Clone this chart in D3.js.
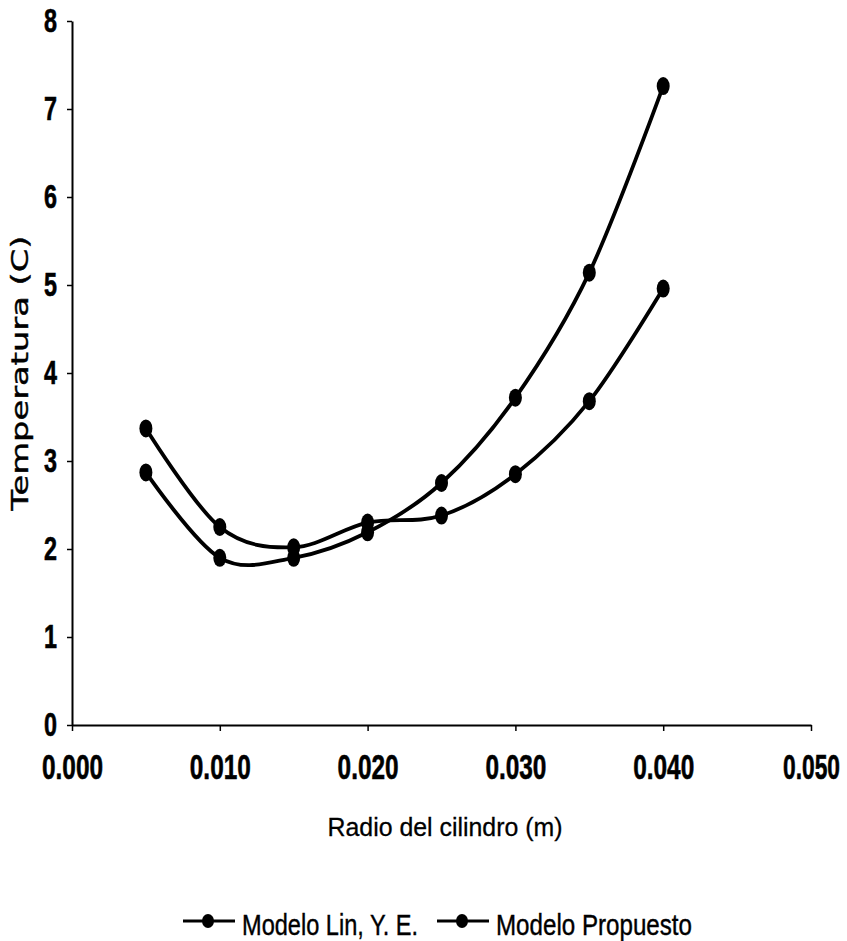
<!DOCTYPE html>
<html>
<head>
<meta charset="utf-8">
<script src="https://cdn.jsdelivr.net/npm/d3@7"></script>
<style>
  body { margin: 0; background: #fff; }
  svg { display: block; }
</style>
</head>
<body>
<script>
// chart values
const radios = [0.005, 0.010, 0.015, 0.020, 0.025, 0.030, 0.035, 0.040];
const linYE = [3.37, 2.25, 2.02, 2.30, 2.38, 2.85, 3.68, 4.96];
const propuesto = [2.87, 1.90, 1.90, 2.19, 2.75, 3.72, 5.14, 7.26];
const seriesNames = ["Modelo Lin, Y. E.", "Modelo Propuesto"];
const xTicks = [0, 0.01, 0.02, 0.03, 0.04, 0.05];
const yTicks = [0, 1, 2, 3, 4, 5, 6, 7, 8];

const width = 847, height = 941;
const sans = "'Liberation Sans', Arial, sans-serif";

const svg = d3.select("body").append("svg")
    .attr("width", width)
    .attr("height", height);

const x = d3.scaleLinear().domain([0, 0.05]).range([72, 811]);
const y = d3.scaleLinear().domain([0, 8]).range([725, 21]);

// axes
const xAxis = svg.append("g")
    .attr("transform", `translate(0,${y(0)})`)
    .call(d3.axisBottom(x).tickValues(xTicks).tickFormat(d3.format(".3f"))
      .tickSize(6).tickSizeOuter(0).tickPadding(23));

const yAxis = svg.append("g")
    .attr("transform", `translate(${x(0)},0)`)
    .call(d3.axisLeft(y).tickValues(yTicks).tickFormat(d3.format("d"))
      .tickSize(5).tickSizeOuter(0).tickPadding(0));

[xAxis, yAxis].forEach(g => {
  g.select(".domain").attr("stroke", "#000").attr("stroke-width", 2);
  g.selectAll(".tick line").attr("stroke", "#000").attr("stroke-width", 1.5);
  g.selectAll(".tick text")
    .attr("fill", "#000")
    .attr("stroke", "#000")
    .attr("stroke-width", 0.6)
    .attr("font-family", sans)
    .attr("font-weight", "bold");
});

// scanned fonts are tall and narrow: squeeze each label horizontally
xAxis.selectAll(".tick text")
    .attr("font-size", 35)
    .attr("transform", function(d, i) {
      const target = i === xTicks.length - 1 ? 57 : 61;
      return `scale(${target / this.getComputedTextLength()},1)`;
    });
yAxis.selectAll(".tick text")
    .attr("font-size", 33)
    .attr("x", 0)
    .attr("transform", function() {
      const s = 13 / this.getComputedTextLength();
      return `translate(-15,0) scale(${s},1)`;
    });

// axis titles
svg.append("text")
    .attr("x", 445).attr("y", 836)
    .attr("text-anchor", "middle")
    .attr("font-family", sans)
    .attr("font-size", 26)
    .attr("stroke", "#000").attr("stroke-width", 0.3)
    .attr("textLength", 235)
    .attr("lengthAdjust", "spacingAndGlyphs")
    .text("Radio del cilindro (m)");

svg.append("text")
    .attr("transform", "translate(28,373) rotate(-90)")
    .attr("text-anchor", "middle")
    .attr("font-family", "'DejaVu Sans', Verdana, sans-serif")
    .attr("font-size", 23)
    .attr("stroke", "#000").attr("stroke-width", 0.4)
    .attr("textLength", 275)
    .attr("lengthAdjust", "spacingAndGlyphs")
    .text("Temperatura (C)");

// series
const series = [linYE, propuesto].map((vals, i) => ({
  name: seriesNames[i],
  points: radios.map((r, j) => ({ r, t: vals[j] }))
}));

const line = d3.line()
    .x(d => x(d.r))
    .y(d => y(d.t))
    .curve(d3.curveCardinal.tension(0));

const sg = svg.append("g")
  .selectAll("g")
  .data(series)
  .join("g");

sg.append("path")
    .attr("fill", "none")
    .attr("stroke", "#000")
    .attr("stroke-width", 3.8)
    .attr("stroke-linejoin", "round")
    .attr("d", d => line(d.points));

sg.selectAll("ellipse")
  .data(d => d.points)
  .join("ellipse")
    .attr("cx", d => x(d.r))
    .attr("cy", d => y(d.t))
    .attr("rx", 6.5)
    .attr("ry", 9)
    .attr("fill", "#000");

// legend
const legendX = [183, 437];
const legendLen = [176, 196];
const legend = svg.append("g")
  .selectAll("g")
  .data(series)
  .join("g")
    .attr("transform", (d, i) => `translate(${legendX[i]},921)`);

legend.append("line")
    .attr("x1", 0).attr("x2", 52)
    .attr("stroke", "#000").attr("stroke-width", 3);

legend.append("ellipse")
    .attr("cx", 25).attr("cy", 0)
    .attr("rx", 6).attr("ry", 7)
    .attr("fill", "#000");

legend.append("text")
    .attr("x", 59).attr("y", 14)
    .attr("font-family", sans)
    .attr("font-size", 29)
    .attr("stroke", "#000").attr("stroke-width", 0.4)
    .attr("textLength", (d, i) => legendLen[i])
    .attr("lengthAdjust", "spacingAndGlyphs")
    .text(d => d.name);
</script>
</body>
</html>
